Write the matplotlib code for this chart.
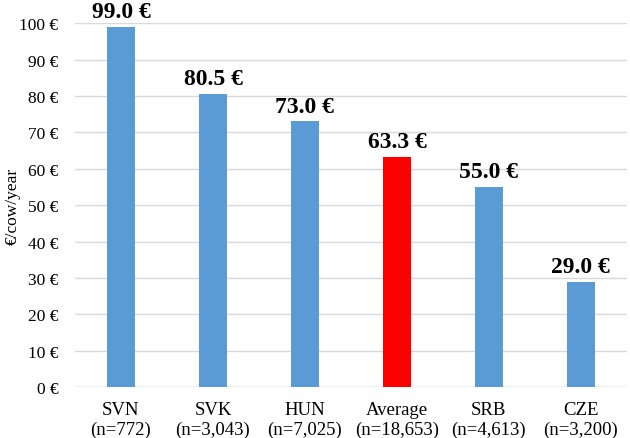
import matplotlib.pyplot as plt

# data
countries = ['SVN', 'SVK', 'HUN', 'Average', 'SRB', 'CZE']
n_labels = ['(n=772)', '(n=3,043)', '(n=7,025)', '(n=18,653)', '(n=4,613)', '(n=3,200)']
values = [99.0, 80.5, 73.0, 63.3, 55.0, 29.0]

blue = '#5b9bd5'
red = '#ff0000'
colors = [red if c == 'Average' else blue for c in countries]

plt.rcParams['font.family'] = ['Liberation Serif', 'DejaVu Serif']

fig = plt.figure(figsize=(6.3, 4.39), dpi=100)
ax = fig.add_axes([0.119, 0.116, 0.876, 0.829])

x = range(len(countries))
ax.bar(x, values, width=0.31, color=colors, zorder=3)

for xi, v in zip(x, values):
    ax.text(xi, v + 1.3, f'{v:.1f} €', ha='center', va='bottom',
            fontsize=17, fontweight='bold', clip_on=False)

ax.set_xlim(-0.5, len(countries) - 0.5)
ax.set_ylim(0, 100)
ax.set_yticks(range(0, 101, 10))
ax.set_yticklabels([f'{t} €' for t in range(0, 101, 10)], fontsize=12.5)
ax.set_xticks(list(x))
ax.set_xticklabels([f'{c}\n{n}' for c, n in zip(countries, n_labels)], fontsize=13.5)
ax.tick_params(axis='y', length=0, pad=12)
ax.tick_params(axis='x', length=0, pad=10)

ax.grid(axis='y', color='#d9d9d9', linewidth=1, zorder=0)
for s in ax.spines.values():
    s.set_visible(False)
ax.axhline(0, color='#d9d9d9', linewidth=1, zorder=1)

ax.set_ylabel('€/cow/year', fontsize=12.5)
ax.yaxis.set_label_coords(-0.098, 0.5)

fig.savefig('out.png', dpi=100)
